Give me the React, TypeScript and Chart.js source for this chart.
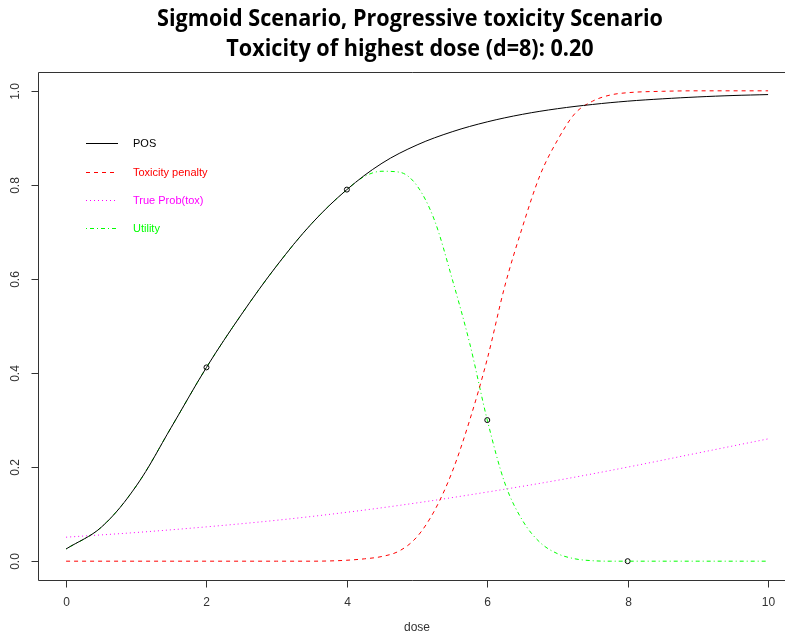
import React, { useEffect, useRef } from "react";
import { Chart, registerables } from "chart.js";

Chart.register(...registerables);

const titleLines = [
  "Sigmoid Scenario, Progressive toxicity Scenario",
  "Toxicity of highest dose (d=8): 0.20",
];
const xAxisTitle = "dose";

const xTicks = [0, 2, 4, 6, 8, 10];
const xTickLabels = ["0", "2", "4", "6", "8", "10"];
const yTicks = [0, 0.2, 0.4, 0.6, 0.8, 1.0];
const yTickLabels = ["0.0", "0.2", "0.4", "0.6", "0.8", "1.0"];

const legendLabels = ["POS", "Toxicity penalty", "True Prob(tox)", "Utility"];

// POS (probability of success)
const posDose = [0, 0.5, 1, 1.5, 2, 2.5, 3, 3.5, 4, 4.5, 5, 5.5, 6, 6.5, 7, 7.5, 8, 8.5, 9, 9.5, 10];
const posValues = [0.026, 0.072, 0.16, 0.285, 0.412, 0.525, 0.628, 0.718, 0.79, 0.846, 0.885, 0.913, 0.934, 0.95, 0.962, 0.971, 0.978, 0.983, 0.987, 0.99, 0.992];

// Toxicity penalty
const toxDose = [0, 1, 2, 3, 3.5, 3.75, 4, 4.25, 4.5, 4.75, 5, 5.25, 5.5, 5.75, 6, 6.25, 6.5, 6.75, 7, 7.25, 7.5, 7.75, 8, 8.5, 9, 10];
const toxValues = [0, 0, 0, 0, 0, 0.0005, 0.002, 0.005, 0.01, 0.022, 0.052, 0.108, 0.19, 0.3, 0.43, 0.585, 0.71, 0.82, 0.895, 0.952, 0.978, 0.991, 0.996, 0.999, 1, 1];

// True probability of toxicity
const probDose = [0, 1, 2, 3, 4, 5, 6, 7, 8, 9, 10];
const probValues = [0.051, 0.061, 0.073, 0.087, 0.104, 0.124, 0.147, 0.172, 0.2, 0.23, 0.26];

// Utility
const utilDose = [0, 0.5, 1, 1.5, 2, 2.5, 3, 3.5, 4, 4.25, 4.5, 4.75, 5, 5.25, 5.5, 5.75, 6, 6.25, 6.5, 6.75, 7, 7.25, 7.5, 7.75, 8, 9, 10];
const utilValues = [0.026, 0.072, 0.16, 0.285, 0.412, 0.525, 0.628, 0.718, 0.79, 0.818, 0.829, 0.827, 0.798, 0.724, 0.6, 0.463, 0.3, 0.166, 0.087, 0.04, 0.016, 0.005, 0.001, 0, 0, 0, 0];

// Evaluated doses (markers)
const markDose = [2, 4, 6, 8];
const markValues = [0.412, 0.79, 0.3, 0];

const colPOS = "#000000";
const colTox = "#FF0000";
const colProb = "#FF00FF";
const colUtil = "#00FF00";

const dashTox = [4, 4];
const dashProb = [1, 3];
const dashUtil = [1, 3, 4, 3];

function pts(xs: number[], ys: number[]) {
  return xs.map((x, i) => ({ x, y: ys[i] }));
}

const CW = 785;
const CH = 636;
// R-style 4% axis extension; the right part of the plot region lies beyond the canvas edge
const X_MIN = -0.4;
const X_MAX = -0.4 + (785 - 38) / 70.2;

const overlay = {
  id: "rOverlay",
  afterDraw(chart: any) {
    const { ctx, chartArea, scales } = chart;
    const { left, top, right, bottom } = chartArea;
    const xs = scales.x;
    const ys = scales.y;
    ctx.save();
    ctx.strokeStyle = "#333333";
    ctx.lineWidth = 1;
    ctx.setLineDash([]);
    const L = Math.round(left) + 0.5;
    const T = Math.round(top) + 0.5;
    const B = Math.round(bottom) + 0.5;
    ctx.beginPath();
    ctx.moveTo(right + 2, T);
    ctx.lineTo(L, T);
    ctx.lineTo(L, B);
    ctx.lineTo(right + 2, B);
    ctx.stroke();
    // ticks
    ctx.fillStyle = "#333333";
    ctx.font = '12px "Liberation Sans", Arial, sans-serif';
    ctx.textAlign = "center";
    ctx.textBaseline = "middle";
    xTicks.forEach((t, i) => {
      const px = Math.round(xs.getPixelForValue(t)) + 0.5;
      ctx.beginPath();
      ctx.moveTo(px, B);
      ctx.lineTo(px, B + 7);
      ctx.stroke();
      ctx.fillText(xTickLabels[i], px, 603);
    });
    yTicks.forEach((t, i) => {
      const py = Math.round(ys.getPixelForValue(t)) + 0.5;
      ctx.beginPath();
      ctx.moveTo(L, py);
      ctx.lineTo(L - 7, py);
      ctx.stroke();
      ctx.save();
      ctx.translate(16, py);
      ctx.rotate(-Math.PI / 2);
      ctx.fillText(yTickLabels[i], 0, 0);
      ctx.restore();
    });
    ctx.fillText(xAxisTitle, 417, 628);

    // legend
    const legCols = [colPOS, colTox, colProb, colUtil];
    const legDash = [[], dashTox, dashProb, dashUtil];
    const legY = [143, 172, 200, 228];
    ctx.font = '11px "Liberation Sans", Arial, sans-serif';
    ctx.textAlign = "left";
    legendLabels.forEach((lab, i) => {
      ctx.strokeStyle = legCols[i];
      ctx.setLineDash(legDash[i]);
      ctx.beginPath();
      ctx.moveTo(86, legY[i] + 0.5);
      ctx.lineTo(118, legY[i] + 0.5);
      ctx.stroke();
      ctx.fillStyle = legCols[i];
      ctx.fillText(lab, 133, legY[i] + 0.5);
    });
    ctx.setLineDash([]);

    // title
    ctx.fillStyle = "#000000";
    ctx.font = 'bold 24px "Open Sans", sans-serif';
    ctx.textAlign = "center";
    ctx.textBaseline = "alphabetic";
    const w1 = ctx.measureText(titleLines[0]).width;
    const sx = 506 / w1;
    const cx = 410;
    const baselines = [26, 56];
    titleLines.forEach((line, i) => {
      ctx.save();
      ctx.translate(cx, baselines[i]);
      ctx.scale(sx, 1);
      ctx.fillText(line, 0, 0);
      ctx.restore();
    });
    ctx.restore();
  },
};

export default function App() {
  const ref = useRef<HTMLCanvasElement | null>(null);
  useEffect(() => {
    if (!ref.current) return;
    const smooth = { pointRadius: 0, borderWidth: 1, fill: false, tension: 0.35 };
    const mono = { pointRadius: 0, borderWidth: 1, fill: false, cubicInterpolationMode: "monotone" as const };
    const chart = new Chart(ref.current, {
      type: "line",
      data: {
        datasets: [
          { ...smooth, label: legendLabels[0], data: pts(posDose, posValues), borderColor: colPOS },
          { ...mono, label: legendLabels[1], data: pts(toxDose, toxValues), borderColor: colTox, borderDash: dashTox },
          { ...smooth, label: legendLabels[2], data: pts(probDose, probValues), borderColor: colProb, borderDash: dashProb },
          { ...mono, label: legendLabels[3], data: pts(utilDose, utilValues), borderColor: colUtil, borderDash: dashUtil },
          {
            label: "marks",
            data: pts(markDose, markValues),
            showLine: false,
            pointRadius: 2.5,
            pointBorderWidth: 1,
            pointBorderColor: "#000000",
            pointBackgroundColor: "rgba(0,0,0,0)",
            borderColor: "#000000",
          },
        ],
      },
      options: {
        responsive: false,
        animation: false,
        devicePixelRatio: 1,
        layout: { autoPadding: false, padding: { left: 38, top: 72, right: 0, bottom: CH - 580 } },
        plugins: { legend: { display: false }, title: { display: false }, tooltip: { enabled: false } },
        scales: {
          x: { type: "linear", min: X_MIN, max: X_MAX, display: false },
          y: { type: "linear", min: -0.04, max: 1.04, display: false },
        },
      },
      plugins: [overlay],
    });
    return () => chart.destroy();
  }, []);
  return (
    <div style={{ position: "fixed", left: 0, top: 0, width: CW, height: CH, overflow: "hidden", background: "#fff" }}>
      <canvas ref={ref} width={CW} height={CH} style={{ width: CW, height: CH, display: "block" }} />
    </div>
  );
}
